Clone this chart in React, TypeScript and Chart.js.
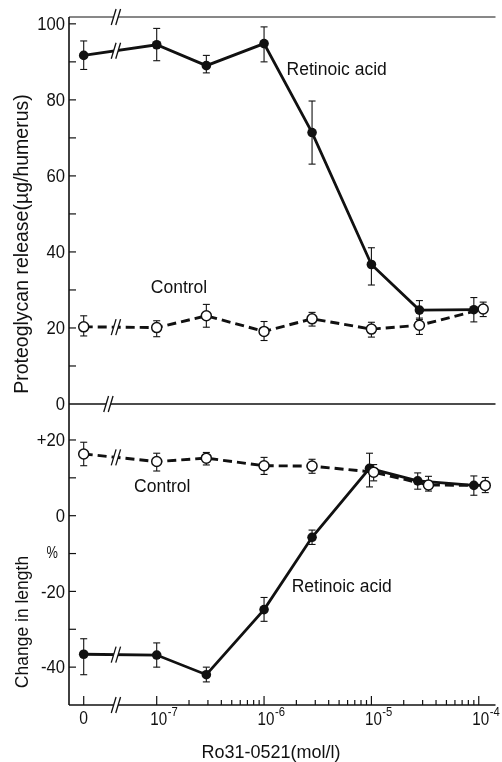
import React, { useEffect, useRef } from "react";
import { Chart, registerables } from "chart.js";

Chart.register(...registerables);

// ---------------- data ----------------
const xDecadeExponents = [-7, -6, -5, -4];
const zeroTickLabel = "0";

// Upper panel: proteoglycan release (µg/humerus)
const topRetinoicConc = [0, 1e-7, 2.9e-7, 1e-6, 2.8e-6, 1e-5, 2.8e-5, 0.9e-4];
const topRetinoicMean = [91.7, 94.5, 89.0, 94.8, 71.4, 36.7, 24.7, 24.8];
const topRetinoicHigh = [95.5, 98.8, 91.7, 99.2, 79.7, 41.1, 27.2, 28.0];
const topRetinoicLow = [88.0, 90.3, 87.1, 90.0, 63.1, 31.3, 22.2, 21.6];

const topControlConc = [0, 1e-7, 2.9e-7, 1e-6, 2.8e-6, 1e-5, 2.8e-5, 1.1e-4];
const topControlMean = [20.3, 20.1, 23.2, 19.1, 22.4, 19.7, 20.7, 25.0];
const topControlHigh = [23.2, 21.9, 26.2, 21.7, 24.1, 21.5, 22.6, 26.8];
const topControlLow = [17.9, 17.7, 20.2, 16.7, 20.5, 17.6, 18.3, 23.0];

// Lower panel: change in length (%)
const lenControlConc = [0, 1e-7, 2.9e-7, 1e-6, 2.8e-6, 1.05e-5, 3.4e-5, 1.15e-4];
const lenControlMean = [16.3, 14.3, 15.2, 13.2, 13.1, 11.5, 8.1, 8.0];
const lenControlHigh = [19.4, 16.5, 16.7, 15.4, 14.9, 13.5, 10.4, 10.1];
const lenControlLow = [13.2, 11.8, 13.4, 10.9, 11.2, 9.2, 6.5, 6.1];

const lenRetinoicConc = [0, 1e-7, 2.9e-7, 1e-6, 2.8e-6, 0.96e-5, 2.7e-5, 0.9e-4];
const lenRetinoicMean = [-36.6, -36.8, -42.0, -24.8, -5.7, 12.5, 9.2, 8.0];
const lenRetinoicHigh = [-32.5, -33.6, -40.0, -21.6, -3.8, 16.5, 11.3, 10.5];
const lenRetinoicLow = [-42.0, -40.0, -43.9, -27.9, -7.6, 7.6, 7.0, 5.4];

const topMajorTicks = [20, 40, 60, 80, 100];
const topTickLabels = ["20", "40", "60", "80", "100"];
const topMinorTicks = [10, 30, 50, 70, 90];
const lenMajorTicks = [20, 0, -20, -40];
const lenTickLabels = ["+20", "0", "-20", "-40"];
const lenMinorTicks = [10, -10, -30];

const topTitle = "Proteoglycan release(\u00b5g/humerus)";
const lenTitle = "Change in length";
const xTitle = "Ro31-0521(mol/l)";
const retinoicLabel = "Retinoic acid";
const controlLabel = "Control";
const percentLabel = "%";

// ---------------- layout constants ----------------
const ZERO_POS = -7.68; // axis position standing for concentration 0
const BREAK_POS = -7.38;
const ZERO_LINE_BREAK_POS = -7.45;
const X_MIN = -7.817;
const X_MAX = -3.844;

const INK = "#111111";
const FONT = '"Liberation Sans", Arial, Helvetica, sans-serif';

const concToPos = (c: number) => (c === 0 ? ZERO_POS : Math.log10(c));
const toPoints = (conc: number[], vals: number[]) =>
  conc.map((c, i) => ({ x: concToPos(c), y: vals[i] }));

const errorSeries = [
  { ds: 0, axis: "yt", hi: topControlHigh, lo: topControlLow },
  { ds: 1, axis: "yt", hi: topRetinoicHigh, lo: topRetinoicLow },
  { ds: 2, axis: "yb", hi: lenControlHigh, lo: lenControlLow },
  { ds: 3, axis: "yb", hi: lenRetinoicHigh, lo: lenRetinoicLow },
];

function seg(ctx: CanvasRenderingContext2D, x1: number, y1: number, x2: number, y2: number) {
  ctx.beginPath();
  ctx.moveTo(x1, y1);
  ctx.lineTo(x2, y2);
  ctx.stroke();
}

function breakMark(ctx: CanvasRenderingContext2D, cx: number, cy: number, clearHalf: number, h: number) {
  const slant = 0.3;
  const sep = 4.5;
  ctx.save();
  ctx.fillStyle = "#fff";
  ctx.beginPath();
  ctx.moveTo(cx - sep / 2 - clearHalf * slant, cy + clearHalf);
  ctx.lineTo(cx - sep / 2 + clearHalf * slant, cy - clearHalf);
  ctx.lineTo(cx + sep / 2 + clearHalf * slant, cy - clearHalf);
  ctx.lineTo(cx + sep / 2 - clearHalf * slant, cy + clearHalf);
  ctx.closePath();
  ctx.fill();
  ctx.strokeStyle = INK;
  ctx.lineWidth = 1.3;
  const half = h / 2;
  for (const dx of [-sep / 2, sep / 2]) {
    seg(ctx, cx + dx - half * slant, cy + half, cx + dx + half * slant, cy - half);
  }
  ctx.restore();
}

function condensedText(ctx: CanvasRenderingContext2D, text: string, x: number, y: number, sx: number) {
  ctx.save();
  ctx.translate(x, y);
  ctx.scale(sx, 1);
  ctx.fillText(text, 0, 0);
  ctx.restore();
}

const paperPlugin = {
  id: "paperAxes",
  beforeDatasetsDraw(chart: any) {
    const ctx: CanvasRenderingContext2D = chart.ctx;
    const x = chart.scales.x;
    const yt = chart.scales.yt;
    const yb = chart.scales.yb;
    const left = chart.chartArea.left;
    const right = chart.chartArea.right;
    const zeroY = yt.getPixelForValue(0);
    ctx.save();
    ctx.strokeStyle = INK;
    ctx.lineCap = "butt";
    // frame
    ctx.lineWidth = 1.6;
    seg(ctx, left, yt.top, left, yb.bottom);
    ctx.lineWidth = 1;
    seg(ctx, left, yt.top, right, yt.top);
    ctx.lineWidth = 1.4;
    seg(ctx, left, zeroY, right, zeroY);
    seg(ctx, left, yb.bottom, right, yb.bottom);

    // y ticks (inward)
    ctx.lineWidth = 1.2;
    for (const v of [...topMajorTicks, ...topMinorTicks]) {
      const py = yt.getPixelForValue(v);
      seg(ctx, left, py, left + 7, py);
    }
    for (const v of [...lenMajorTicks, ...lenMinorTicks]) {
      const py = yb.getPixelForValue(v);
      seg(ctx, left, py, left + 7, py);
    }
    // x ticks (inward, upward)
    const xb = yb.bottom;
    for (const p of [ZERO_POS, ...xDecadeExponents]) {
      const px = x.getPixelForValue(p);
      seg(ctx, px, xb, px, xb - 9);
    }
    for (const e of xDecadeExponents) {
      for (let k = 2; k <= 9; k++) {
        const p = e + Math.log10(k);
        if (p > X_MAX) continue;
        const px = x.getPixelForValue(p);
        seg(ctx, px, xb, px, xb - 5);
      }
    }

    // error bars
    ctx.lineWidth = 1.1;
    for (const s of errorSeries) {
      const meta = chart.getDatasetMeta(s.ds);
      const sc = chart.scales[s.axis];
      meta.data.forEach((pt: any, j: number) => {
        const yh = sc.getPixelForValue(s.hi[j]);
        const yl = sc.getPixelForValue(s.lo[j]);
        seg(ctx, pt.x, yh, pt.x, yl);
        seg(ctx, pt.x - 3.5, yh, pt.x + 3.5, yh);
        seg(ctx, pt.x - 3.5, yl, pt.x + 3.5, yl);
      });
    }
    ctx.restore();
  },
  afterDatasetsDraw(chart: any) {
    const ctx: CanvasRenderingContext2D = chart.ctx;
    const x = chart.scales.x;
    const yt = chart.scales.yt;
    const yb = chart.scales.yb;
    const left = chart.chartArea.left;
    const bx = x.getPixelForValue(BREAK_POS);

    // breaks on the data lines between 0 and 1e-7
    for (let i = 0; i < 4; i++) {
      const meta = chart.getDatasetMeta(i);
      const p0 = meta.data[0];
      const p1 = meta.data[1];
      const t = (bx - p0.x) / (p1.x - p0.x);
      const by = p0.y + t * (p1.y - p0.y);
      breakMark(ctx, bx, by, 5, 16);
    }
    // breaks on the axes
    breakMark(ctx, bx, yt.top, 3, 16);
    breakMark(ctx, x.getPixelForValue(ZERO_LINE_BREAK_POS), yt.getPixelForValue(0), 3, 16);
    breakMark(ctx, bx, yb.bottom, 3, 16);

    // y tick labels (slightly condensed face)
    ctx.save();
    ctx.fillStyle = INK;
    ctx.font = `18.5px ${FONT}`;
    ctx.textAlign = "right";
    ctx.textBaseline = "middle";
    const sx = 0.9;
    topMajorTicks.forEach((v, i) => condensedText(ctx, topTickLabels[i], left - 4, yt.getPixelForValue(v) + 1, sx));
    condensedText(ctx, "0", left - 4, yt.getPixelForValue(0) + 1, sx);
    lenMajorTicks.forEach((v, i) => condensedText(ctx, lenTickLabels[i], left - 4, yb.getPixelForValue(v) + 1, sx));
    ctx.font = `16px ${FONT}`;
    condensedText(ctx, percentLabel, left - 11, yb.getPixelForValue(-10), 0.8);

    // x tick labels
    const xb = yb.bottom;
    ctx.font = `18.5px ${FONT}`;
    ctx.textAlign = "center";
    condensedText(ctx, zeroTickLabel, x.getPixelForValue(ZERO_POS), xb + 14, 0.85);
    for (const e of xDecadeExponents) {
      const px = x.getPixelForValue(e);
      ctx.font = `18.5px ${FONT}`;
      ctx.textAlign = "center";
      const w = ctx.measureText("10").width * 0.82;
      condensedText(ctx, "10", px + 2, xb + 15, 0.82);
      ctx.font = `12.5px ${FONT}`;
      ctx.textAlign = "left";
      condensedText(ctx, "-" + String(-e), px + 2 + w / 2 + 0.5, xb + 8, 0.9);
    }

    // axis titles
    ctx.textAlign = "center";
    ctx.font = `18px ${FONT}`;
    ctx.fillText(xTitle, 271, xb + 48);
    ctx.save();
    ctx.translate(23, 244);
    ctx.rotate(-Math.PI / 2);
    ctx.font = `19.5px ${FONT}`;
    ctx.fillText(topTitle, 0, 0);
    ctx.restore();
    ctx.save();
    ctx.translate(23, 622);
    ctx.rotate(-Math.PI / 2);
    ctx.font = `17.5px ${FONT}`;
    ctx.fillText(lenTitle, 0, 0);
    ctx.restore();

    // series labels
    ctx.textAlign = "left";
    ctx.font = `17.5px ${FONT}`;
    ctx.fillText(retinoicLabel, x.getPixelForValue(-5.79), yt.getPixelForValue(87.9));
    ctx.fillText(controlLabel, x.getPixelForValue(-7.055), yt.getPixelForValue(30.5));
    ctx.fillText(controlLabel, x.getPixelForValue(-7.211), yb.getPixelForValue(7.6));
    ctx.fillText(retinoicLabel, x.getPixelForValue(-5.743), yb.getPixelForValue(-18.9));
    ctx.restore();
  },
};

const openPoint = {
  borderColor: INK,
  borderWidth: 2.9,
  borderDash: [9, 5],
  pointRadius: 5,
  pointBackgroundColor: "#ffffff",
  pointBorderColor: INK,
  pointBorderWidth: 1.5,
  fill: false,
  tension: 0,
};
const filledPoint = {
  borderColor: INK,
  borderWidth: 2.8,
  pointRadius: 4.8,
  pointBackgroundColor: INK,
  pointBorderColor: INK,
  pointBorderWidth: 0,
  fill: false,
  tension: 0,
};

export default function App() {
  const ref = useRef<HTMLCanvasElement | null>(null);
  useEffect(() => {
    if (!ref.current) return;
    const chart = new Chart(ref.current, {
      type: "line",
      data: {
        datasets: [
          { label: "Control", yAxisID: "yt", data: toPoints(topControlConc, topControlMean), ...openPoint },
          { label: "Retinoic acid", yAxisID: "yt", data: toPoints(topRetinoicConc, topRetinoicMean), ...filledPoint },
          { label: "Control", yAxisID: "yb", data: toPoints(lenControlConc, lenControlMean), ...openPoint },
          { label: "Retinoic acid", yAxisID: "yb", data: toPoints(lenRetinoicConc, lenRetinoicMean), ...filledPoint },
        ] as any,
      },
      options: {
        animation: false,
        responsive: false,
        devicePixelRatio: 1,
        layout: { padding: { left: 69, right: 0, top: 17, bottom: 57 } },
        plugins: { legend: { display: false }, tooltip: { enabled: false } },
        scales: {
          x: { type: "linear", min: X_MIN, max: X_MAX, display: false },
          yb: { type: "linear", position: "left", stack: "panels", stackWeight: 301, min: -50, max: 29.5, display: false },
          yt: { type: "linear", position: "left", stack: "panels", stackWeight: 387, min: 0, max: 101.8, display: false },
        },
      } as any,
      plugins: [paperPlugin],
    });
    return () => chart.destroy();
  }, []);
  return (
    <div style={{ position: "absolute", left: 0, top: 0, width: 502, height: 762, overflow: "hidden", background: "#fff" }}>
      <canvas ref={ref} width={502} height={762} style={{ display: "block" }} />
    </div>
  );
}
